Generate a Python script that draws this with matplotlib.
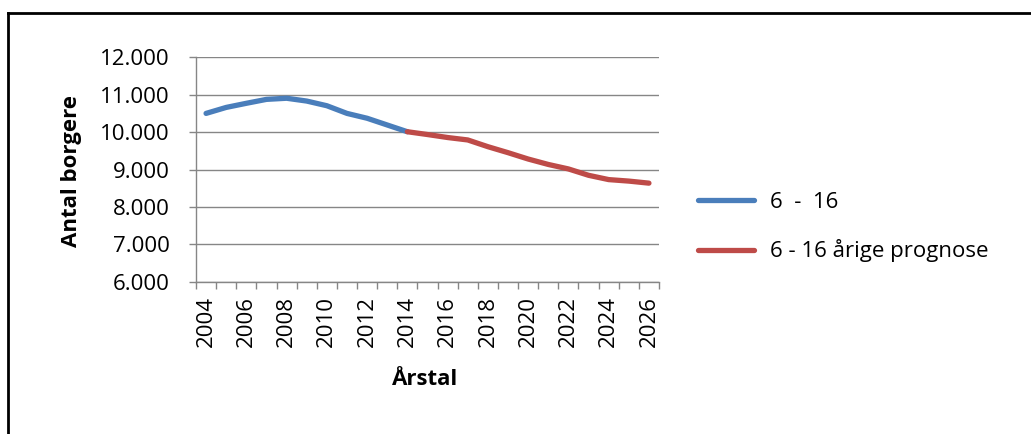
import numpy as np
import matplotlib
matplotlib.use("Agg")
import matplotlib.pyplot as plt
from matplotlib.lines import Line2D
from matplotlib.ticker import FuncFormatter

years = list(range(2004, 2027))
actual = [10500, 10660, 10770, 10875, 10905, 10830, 10705, 10500, 10370, 10190, 10010,
          None, None, None, None, None, None, None, None, None, None, None, None]
forecast = [None, None, None, None, None, None, None, None, None, None, 10010,
            9935, 9855, 9790, 9610, 9450, 9280, 9135, 9015, 8845, 8730, 8690, 8635]
series_names = ["6  -  16", "6 - 16 årige prognose"]
y_ticks = [6000, 7000, 8000, 9000, 10000, 11000, 12000]

FONT = ["Open Sans", "DejaVu Sans"]
plt.rcParams['font.family'] = FONT
FS = 16

fig = plt.figure(figsize=(10.31, 4.34), dpi=100)
L, R, T, B = 196, 659, 57.3, 281.7
ax = fig.add_axes([L/1031, 1-B/434, (R-L)/1031, (B-T)/434])

x = np.arange(len(years))
a = np.array([np.nan if v is None else v for v in actual], dtype=float)
f = np.array([np.nan if v is None else v for v in forecast], dtype=float)
blue = "#4A7EBB"
red = "#BE4B48"
ax.plot(x, a, color=blue, lw=3.8, solid_capstyle='round', solid_joinstyle='round', zorder=3)
ax.plot(x, f, color=red, lw=3.8, solid_capstyle='round', solid_joinstyle='round', zorder=3)

ax.set_xlim(-0.5, len(years) - 0.5)
ax.set_ylim(6000, 12000)
ax.set_yticks(y_ticks)
ax.yaxis.set_major_formatter(FuncFormatter(lambda v, p: f"{int(v):,}".replace(",", ".")))
ax.grid(axis='y', color='#868686', lw=1.0)
ax.set_axisbelow(True)

ax.set_xticks(np.arange(-0.5, len(years), 1.0))
ax.set_xticklabels([])
ax.set_xticks(x[::2], minor=True)
ax.set_xticklabels([str(y) for y in years[::2]], minor=True, rotation=90)
ax.tick_params(axis='x', which='major', length=5, color='#868686', width=1)
ax.tick_params(axis='x', which='minor', length=0, labelsize=FS, pad=10)
ax.tick_params(axis='y', length=5, color='#868686', width=1, labelsize=FS, pad=14)

for s in ['top', 'right']:
    ax.spines[s].set_visible(False)
for s in ['left', 'bottom']:
    ax.spines[s].set_color('#868686')
    ax.spines[s].set_linewidth(1.0)

ax.set_ylabel("Antal borgere", fontsize=FS, fontweight='bold')
ax.yaxis.set_label_coords((82-L)/(R-L), (B-171)/(B-T))
ax.set_xlabel("Årstal", fontsize=FS, fontweight='bold')
ax.xaxis.set_label_coords((425-L)/(R-L), (B-369)/(B-T))

handles = [Line2D([], [], color=blue, lw=3.8, solid_capstyle='round'),
           Line2D([], [], color=red, lw=3.8, solid_capstyle='round')]
fig.legend(handles, series_names, loc='center left', bbox_to_anchor=(698/1031, 1-227/434),
           frameon=False, fontsize=FS, handlelength=2.5, labelspacing=1.2, handletextpad=0.75,
           borderaxespad=0, borderpad=0)

# outer frame (top and left only visible)
fig.add_artist(Line2D([8/1031, 1.0], [1-12.7/434, 1-12.7/434], color='black', lw=2, transform=fig.transFigure))
fig.add_artist(Line2D([8/1031, 8/1031], [1-12.7/434, 0], color='black', lw=2, transform=fig.transFigure))

fig.savefig("out.png", dpi=100, facecolor='white')
